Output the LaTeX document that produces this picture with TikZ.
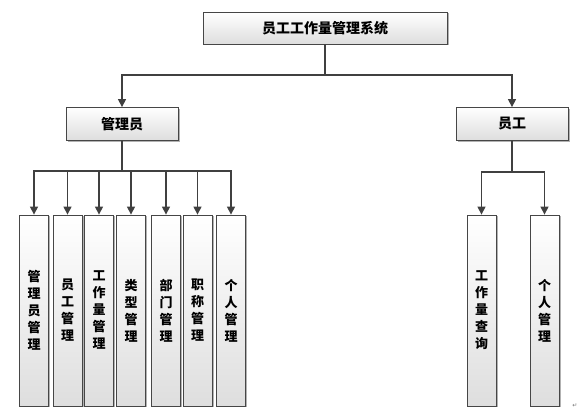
\documentclass[tikz,border=0pt]{standalone}
\usepackage{fontspec}
\newfontfamily\cjk{Noto Sans CJK SC}
\newfontfamily\symfont{DejaVu Sans}
\usepackage{xcolor}
\definecolor{lnGray}{RGB}{64,64,64}
\definecolor{boxEdge}{RGB}{70,70,70}
\definecolor{boxLow}{RGB}{222,222,222}
\usetikzlibrary{arrows.meta,positioning,shadows}
\tikzset{
  box/.style={draw=boxEdge,line width=0.8pt,top color=white,bottom color=boxLow,
    drop shadow={shadow xshift=1.5pt,shadow yshift=-1.5pt,opacity=0.3,fill=black},
    inner sep=0pt,align=center,font=\cjk\bfseries\fontsize{14}{17}\selectfont},
  leaf/.style={box,minimum width=29pt,minimum height=191pt,
    font=\cjk\bfseries\fontsize{13}{17}\selectfont},
  link/.style={draw=lnGray,line width=1.3pt},
  arrow/.style={link,-{Triangle[width=8pt,length=8pt]}}
}

\begin{document}
\begin{tikzpicture}[x=1pt,y=-1pt]
  \useasboundingbox (0,0) rectangle (579,411);
  % Top level
  \node[box,minimum width=244pt,minimum height=32pt] (sys) at (325,28) {员工工作量管理系统};
  \node[box,minimum width=112pt,minimum height=33pt] (admin) at (122,124) {管理员};
  \node[box,minimum width=112pt,minimum height=33pt] (staff) at (512,124) {员工};
  \coordinate (j0) at (325,75);
  \draw[link] (sys.south) -- (j0);
  \draw[arrow] (j0) -| (admin.north);
  \draw[arrow] (j0) -| (staff.north);
  % Admin functions
  \coordinate (j1) at (122,171);
  \draw[link] (admin.south) -- (j1);
  \foreach \i/\x/\txt in {
    1/34/{管\\理\\员\\管\\理},
    2/67.5/{员\\工\\管\\理},
    3/99/{工\\作\\量\\管\\理},
    4/131/{类\\型\\管\\理},
    5/166/{部\\门\\管\\理},
    6/197.5/{职\\称\\管\\理},
    7/231/{个\\人\\管\\理}}{
    \node[leaf] (a\i) at (\x,310.5) {\txt};
    \draw[arrow] (j1) -| (a\i.north);
  }
  % Staff functions
  \coordinate (j2) at (512,172);
  \draw[link] (staff.south) -- (j2);
  \foreach \i/\x/\txt in {
    1/481.5/{工\\作\\量\\查\\询},
    2/544.5/{个\\人\\管\\理}}{
    \node[leaf] (s\i) at (\x,310.5) {\txt};
    \draw[arrow] (j2) -| (s\i.north);
  }
  % Return mark
  \node[font=\symfont\fontsize{6}{6}\selectfont,text=black!55,inner sep=0pt] (ret) at (575,406) {↵};
\end{tikzpicture}
\end{document}
